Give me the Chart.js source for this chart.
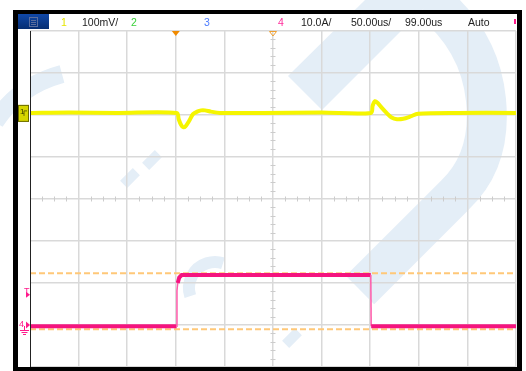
<!DOCTYPE html>
<html>
<head>
<meta charset="utf-8">
<script src="https://cdn.jsdelivr.net/npm/chart.js@4.4.1/dist/chart.umd.min.js"></script>
<style>
  body { margin: 0; background: #fff; }
  #wrap { position: relative; width: 526px; height: 371px; font-family: "Liberation Sans", Arial, sans-serif; }
  #wrap canvas { position: absolute; left: 0; top: 0; }
  .lbl { position: absolute; top: 16px; font-size: 10.5px; line-height: 12px; color: #222; white-space: nowrap; }
  .mk { position: absolute; font-size: 9px; line-height: 9px; white-space: nowrap; }
</style>
</head>
<body>
<div id="wrap">
  <canvas id="scope" width="526" height="371"></canvas>
  <span class="lbl" style="left:61px;color:#e6e600">1</span>
  <span class="lbl" style="left:82px">100mV/</span>
  <span class="lbl" style="left:131px;color:#3ad13a">2</span>
  <span class="lbl" style="left:204px;color:#4d7cff">3</span>
  <span class="lbl" style="left:278px;color:#ff2a9a">4</span>
  <span class="lbl" style="left:301px">10.0A/</span>
  <span class="lbl" style="left:351px">50.00us/</span>
  <span class="lbl" style="left:405px">99.00us</span>
  <span class="lbl" style="left:468px">Auto</span>
  <span class="mk" style="left:20px;top:107px;color:#3a3a00;font-size:8px">1</span>
  <span class="mk" style="left:24px;top:287px;color:#ff1a8c">T</span>
  <span class="mk" style="left:19px;top:320px;color:#ff1a8c">4</span>
</div>
<script>
// canal 1 (voltaje, mV) y canal 4 (corriente, A) - 50us/div
var yellowTime = [0, 40, 90, 151, 153, 155.5, 157.5, 160, 163.5, 167.7, 172, 176, 180, 186, 195.5, 240, 300,
                  350.8, 352.5, 355, 358, 362, 367.3, 372, 377.6, 384, 391, 399.2, 440, 500];
var yellowMv = [0, 1, 0, 0, -15, -29, -34, -32, -20, -3, 3, 6, 6, 3, 0, 0, 1,
                0, 17, 28, 23, 12, -1, -11, -15, -14, -9, -2, 0, 0];

var pinkTime = [0, 150.8, 151.2, 152, 153.5, 156, 350.6, 351, 500];
var pinkAmp = [0, 0, 8.5, 10.3, 11.6, 12.2, 12.2, 0, 0];

var cursorAmp = [12.6, -0.7];
var triggerTime = 150;

// escala y posicion de cada canal (div)
var ch1PerDiv = 100, ch1Offset = 2.05;
var ch4PerDiv = 10, ch4Offset = -3.03;

function toPoints(xs, ys, perDiv, offset) {
  return xs.map(function (x, i) { return { x: x, y: ys[i] / perDiv + offset }; });
}
function cursorLine(v) {
  return [{ x: 0, y: v / ch4PerDiv + ch4Offset }, { x: 500, y: v / ch4PerDiv + ch4Offset }];
}

var watermark = {
  id: 'watermark',
  beforeDraw: function (chart) {
    var ctx = chart.ctx;
    ctx.save();
    ctx.fillStyle = '#ffffff';
    ctx.fillRect(0, 0, chart.width, chart.height);
    ctx.fillStyle = '#e4eef7';
    ctx.strokeStyle = '#e4eef7';
    // banda superior
    ctx.beginPath();
    ctx.moveTo(365, 0); ctx.lineTo(432, 0); ctx.lineTo(322, 110); ctx.lineTo(288, 76);
    ctx.closePath(); ctx.fill();
    // "D" derecha
    ctx.lineWidth = 40;
    ctx.lineCap = 'butt';
    ctx.beginPath();
    ctx.moveTo(360, 290); ctx.lineTo(455, 195);
    ctx.quadraticCurveTo(492, 160, 486, 100);
    ctx.quadraticCurveTo(480, 40, 430, 0);
    ctx.stroke();
    // arco izquierdo
    ctx.lineWidth = 18;
    ctx.beginPath();
    ctx.moveTo(-5, 122); ctx.quadraticCurveTo(18, 86, 62, 74);
    ctx.stroke();
    // arco inferior
    ctx.lineWidth = 12;
    ctx.beginPath();
    ctx.arc(215, 288, 26, Math.PI * 0.9, Math.PI * 1.6);
    ctx.stroke();
    // puntos
    [[130, 178], [152, 160], [292, 338]].forEach(function (p) {
      ctx.save();
      ctx.translate(p[0], p[1]);
      ctx.rotate(Math.PI / 4);
      ctx.fillRect(-5, -9, 10, 18);
      ctx.restore();
    });
    ctx.restore();
  }
};

var minorTicks = {
  id: 'minorTicks',
  beforeDatasetsDraw: function (chart) {
    var ctx = chart.ctx, xs = chart.scales.x, ys = chart.scales.y;
    var cx = xs.getPixelForValue(250), cy = ys.getPixelForValue(0);
    ctx.save();
    ctx.strokeStyle = '#cccccc';
    ctx.lineWidth = 1;
    ctx.beginPath();
    for (var t = 0; t <= 500; t += 12.5) {
      if (t % 50 === 0) continue;
      var px = Math.round(xs.getPixelForValue(t)) + 0.5;
      ctx.moveTo(px, cy - 2.5); ctx.lineTo(px, cy + 2.5);
    }
    for (var k = -20; k <= 20; k++) {
      if (k % 5 === 0) continue;
      var py = Math.round(ys.getPixelForValue(k / 5)) + 0.5;
      ctx.moveTo(cx - 2.5, py); ctx.lineTo(cx + 2.5, py);
    }
    ctx.stroke();
    ctx.restore();
  }
};

var frame = {
  id: 'frame',
  afterDraw: function (chart) {
    var ctx = chart.ctx, xs = chart.scales.x, ys = chart.scales.y;
    var a = chart.chartArea;
    ctx.save();
    // tira izquierda y cabecera
    ctx.fillStyle = '#ffffff';
    ctx.fillRect(18, 14, 12, a.bottom - 14);
    ctx.fillRect(18, 14, 499, 16);
    ctx.fillStyle = '#222';
    ctx.fillRect(30, a.top, 1, a.bottom - a.top);
    // boton menu
    var g = ctx.createLinearGradient(0, 14, 0, 29);
    g.addColorStop(0, '#1048a8'); g.addColorStop(1, '#062e72');
    ctx.fillStyle = g;
    ctx.fillRect(18, 14, 31, 15);
    ctx.strokeStyle = '#5a6e9e';
    ctx.lineWidth = 1;
    ctx.strokeRect(29.5, 17.5, 8, 9);
    ctx.beginPath();
    ctx.moveTo(31, 20.5); ctx.lineTo(36, 20.5);
    ctx.moveTo(31, 22.5); ctx.lineTo(36, 22.5);
    ctx.moveTo(31, 24.5); ctx.lineTo(36, 24.5);
    ctx.stroke();
    // marcadores superiores
    var tx = xs.getPixelForValue(triggerTime);
    ctx.fillStyle = '#f08a00';
    ctx.beginPath();
    ctx.moveTo(tx - 4, a.top); ctx.lineTo(tx + 4, a.top); ctx.lineTo(tx, a.top + 5);
    ctx.closePath(); ctx.fill();
    var mx = xs.getPixelForValue(250);
    ctx.strokeStyle = '#f0a030';
    ctx.beginPath();
    ctx.moveTo(mx - 3.5, a.top + 0.5); ctx.lineTo(mx + 3.5, a.top + 0.5); ctx.lineTo(mx, a.top + 5);
    ctx.closePath(); ctx.stroke();
    // marcador canal 1
    var y1 = ys.getPixelForValue(ch1Offset);
    ctx.fillStyle = '#d6d600';
    ctx.fillRect(18, y1 - 8, 11, 17);
    ctx.strokeStyle = '#6b6b00';
    ctx.strokeRect(18.5, y1 - 7.5, 10, 16);
    ctx.beginPath();
    ctx.moveTo(24, y1 + 3); ctx.lineTo(24, y1 - 2); ctx.lineTo(27, y1 - 2);
    ctx.stroke();
    // marcadores canal 4
    ctx.fillStyle = '#ff1a8c';
    ctx.strokeStyle = '#ff1a8c';
    var yt = ys.getPixelForValue(-2.28);
    ctx.beginPath();
    ctx.moveTo(26, yt - 3); ctx.lineTo(30, yt); ctx.lineTo(26, yt + 3);
    ctx.closePath(); ctx.fill();
    var y4 = ys.getPixelForValue(ch4Offset + 0.03);
    ctx.beginPath();
    ctx.moveTo(26, y4 - 3.5); ctx.lineTo(30, y4); ctx.lineTo(26, y4 + 3.5);
    ctx.closePath(); ctx.fill();
    ctx.beginPath();
    ctx.moveTo(24.5, y4 + 1); ctx.lineTo(24.5, y4 + 5);
    ctx.moveTo(20, y4 + 5.5); ctx.lineTo(29, y4 + 5.5);
    ctx.moveTo(21.5, y4 + 7.5); ctx.lineTo(27.5, y4 + 7.5);
    ctx.moveTo(23, y4 + 9.5); ctx.lineTo(26, y4 + 9.5);
    ctx.stroke();
    ctx.fillRect(514, 19, 2, 5);
    // marco negro
    ctx.fillStyle = '#000';
    ctx.fillRect(13, 10, 509, 4);
    ctx.fillRect(13, 10, 5, 361);
    ctx.fillRect(517, 10, 5, 361);
    ctx.fillRect(13, 367, 509, 4);
    ctx.restore();
  }
};

new Chart(document.getElementById('scope'), {
  type: 'line',
  data: {
    datasets: [{
      label: 'CH1',
      data: toPoints(yellowTime, yellowMv, ch1PerDiv, ch1Offset),
      borderColor: '#f5f500',
      borderWidth: 4,
      pointRadius: 0,
      tension: 0.3,
      order: 1
    }, {
      label: 'CH4',
      data: toPoints(pinkTime, pinkAmp, ch4PerDiv, ch4Offset),
      borderColor: '#f5147f',
      borderWidth: 4,
      pointRadius: 0,
      order: 2,
      segment: {
        borderWidth: function (c) { return Math.abs(c.p1.parsed.x - c.p0.parsed.x) < 1 ? 1.5 : 4; },
        borderColor: function (c) { return Math.abs(c.p1.parsed.x - c.p0.parsed.x) < 1 ? '#ff5aaa' : '#f5147f'; }
      }
    }, {
      label: 'Cursor A',
      data: cursorLine(cursorAmp[0]),
      borderColor: '#ffc878',
      borderWidth: 2,
      borderDash: [6, 3],
      pointRadius: 0,
      order: 3
    }, {
      label: 'Cursor B',
      data: cursorLine(cursorAmp[1]),
      borderColor: '#ffc878',
      borderWidth: 2,
      borderDash: [6, 3],
      pointRadius: 0,
      order: 3
    }]
  },
  options: {
    responsive: false,
    animation: false,
    devicePixelRatio: 1,
    layout: { padding: { left: 30, right: 10, top: 31, bottom: 4 } },
    plugins: { legend: { display: false }, tooltip: { enabled: false } },
    scales: {
      x: {
        type: 'linear', min: 0, max: 500,
        ticks: { display: false, stepSize: 50 },
        grid: { color: '#d9d9d9', lineWidth: 1.5, drawTicks: false },
        border: { display: false }
      },
      y: {
        type: 'linear', min: -4, max: 4,
        ticks: { display: false, stepSize: 1 },
        grid: { color: '#d9d9d9', lineWidth: 1.5, drawTicks: false },
        border: { display: false }
      }
    }
  },
  plugins: [watermark, minorTicks, frame]
});
</script>
</body>
</html>
